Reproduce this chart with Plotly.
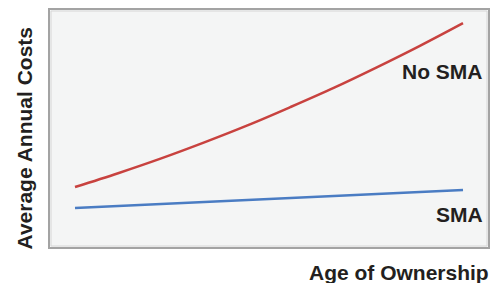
import plotly.graph_objects as go

# Data (arbitrary cost units 0-100)
ages = [1, 2, 3, 4, 5, 6, 7, 8, 9, 10]
no_sma_costs = [25.5, 31.3, 37.5, 44.2, 51.3, 59.0, 67.0, 75.6, 84.6, 94.1]
sma_ages = [1, 10]
sma_costs = [16.7, 24.3]

x_title = "Age of Ownership"
y_title = "Average Annual Costs"
label_no_sma = "No SMA"
label_sma = "SMA"

W, H = 493, 283
L, R, T, B = 49, 4, 9, 35
pw = W - L - R
ph = H - T - B

def px(x):
    return (x - L) / pw

def py(y):
    return (H - B - y) / ph

FONT = "Liberation Sans, Arial, sans-serif"
TXT = "#231f20"

fig = go.Figure()
fig.add_trace(go.Scatter(x=ages, y=no_sma_costs, mode="lines",
                         line=dict(color="#c8423f", width=2.5, shape="spline"),
                         showlegend=False, hoverinfo="skip"))
fig.add_trace(go.Scatter(x=sma_ages, y=sma_costs, mode="lines",
                         line=dict(color="#4a7cc3", width=2.5),
                         showlegend=False, hoverinfo="skip"))

fig.update_layout(
    width=W, height=H,
    margin=dict(l=L, r=R, t=T, b=B),
    paper_bgcolor="white",
    plot_bgcolor="#f4f5f5",
    xaxis=dict(range=[0.397, 10.603], showgrid=False, zeroline=False,
               showticklabels=False, ticks=""),
    yaxis=dict(range=[0, 100], showgrid=False, zeroline=False,
               showticklabels=False, ticks=""),
    shapes=[
        dict(type="rect", xref="paper", yref="paper", x0=0, x1=1, y0=0, y1=1,
             line=dict(color="#a3a3a3", width=2)),
        dict(type="rect", xref="paper", yref="paper",
             x0=px(L + 2), x1=px(W - R - 2), y0=py(H - B - 2), y1=py(T + 2),
             line=dict(color="#d6d6d6", width=1)),
    ],
    annotations=[
        dict(text=label_no_sma, xref="paper", yref="paper",
             x=px(442.5), y=py(71.5), xanchor="center", yanchor="middle",
             showarrow=False, font=dict(family=FONT, size=21, color=TXT, weight="bold")),
        dict(text=label_sma, xref="paper", yref="paper",
             x=px(459), y=py(214), xanchor="center", yanchor="middle",
             showarrow=False, font=dict(family=FONT, size=21, color=TXT, weight="bold")),
        dict(text=x_title, xref="paper", yref="paper",
             x=px(491), y=py(272), xanchor="right", yanchor="middle",
             showarrow=False, font=dict(family=FONT, size=21, color=TXT, weight="bold")),
        dict(text=y_title, xref="paper", yref="paper", textangle=-90,
             x=px(24), y=py(138.5), xanchor="center", yanchor="middle",
             showarrow=False, font=dict(family=FONT, size=21, color=TXT, weight="bold")),
    ],
)

fig.write_html("out.html", config={"displayModeBar": False},
               post_script="document.body.style.margin='0';document.body.style.overflow='hidden';")
